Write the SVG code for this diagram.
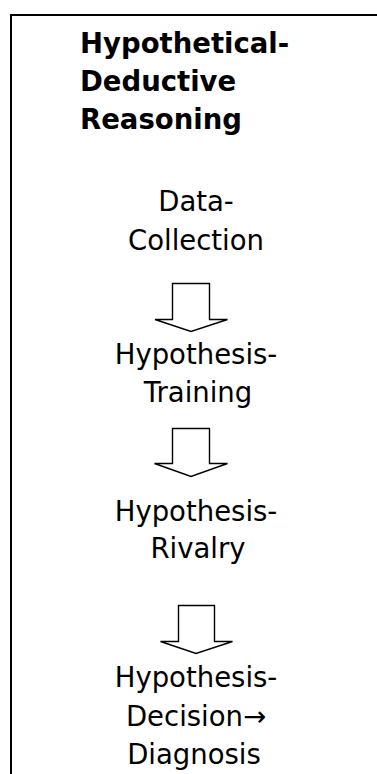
<svg xmlns="http://www.w3.org/2000/svg" width="377" height="774" viewBox="0 0 377 774">
<style>
.t{font-family:"DejaVu Sans","Liberation Sans",sans-serif;font-size:27.5px;fill:#000;text-anchor:middle}
.b{font-family:"DejaVu Sans","Liberation Sans",sans-serif;font-size:27.5px;font-weight:bold;fill:#000}
.arr{fill:#fff;stroke:#000;stroke-width:1.4;stroke-linejoin:miter}
.frame{fill:none;stroke:#000;stroke-width:2}
</style>
<rect width="377" height="774" fill="#fff"/>
<path class="frame" d="M11,774 V15 H377"/>
<g id="title">
<text class="b" x="80" y="53">Hypothetical-</text>
<text class="b" x="80" y="91">Deductive</text>
<text class="b" x="80" y="129">Reasoning</text>
</g>
<g id="data-collection">
<text class="t" x="196" y="211">Data-</text>
<text class="t" x="196" y="250">Collection</text>
</g>
<g id="hypothesis-training">
<text class="t" x="196" y="364">Hypothesis-</text>
<text class="t" x="198" y="402">Training</text>
</g>
<g id="hypothesis-rivalry">
<text class="t" x="196" y="521">Hypothesis-</text>
<text class="t" x="198" y="558">Rivalry</text>
</g>
<g id="hypothesis-decision">
<text class="t" x="196" y="687">Hypothesis-</text>
<text class="t" x="196" y="726">Decision→</text>
<text class="t" x="194" y="764">Diagnosis</text>
</g>
<g id="connectors">
<path class="arr" d="M172.5,283.5 H209.5 V319.5 H227.5 L191,331.5 L155,319.5 H172.5 Z"/>
<path class="arr" d="M172.5,428.5 H209.5 V463.5 H227.5 L191,476.5 L154.5,463.5 H172.5 Z"/>
<path class="arr" d="M178.5,605.5 H214.5 V641.5 H232.5 L196,653.5 L160.5,641.5 H178.5 Z"/>
</g>
</svg>
